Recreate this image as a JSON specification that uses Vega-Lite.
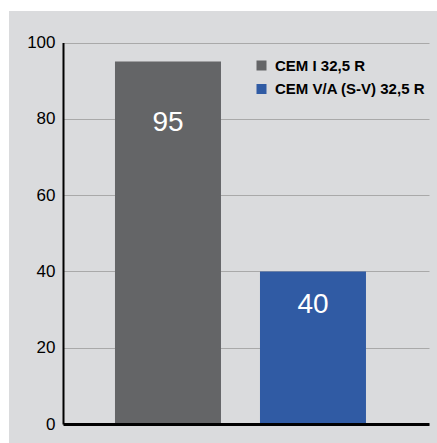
{
  "$schema": "https://vega.github.io/schema/vega-lite/v6.json",
  "width": 428,
  "height": 432,
  "autosize": {"type": "none"},
  "padding": {"left": 9, "top": 11, "right": 0, "bottom": 0},
  "background": "#ffffff",
  "config": {"view": {"fill": "#dadbdd", "stroke": null}, "font": "Liberation Sans"},
  "data": {"values": [
    {"cement": "CEM I 32,5 R", "value": 95},
    {"cement": "CEM V/A (S-V) 32,5 R", "value": 40}
  ]},
  "encoding": {
    "x": {
      "field": "cement", "type": "nominal", "sort": null,
      "scale": {"range": [54, 420], "paddingInner": 0.269, "paddingOuter": 0.3966, "align": 0.452},
      "axis": {"orient": "bottom", "offset": -19, "labels": false, "ticks": false, "title": null, "domainColor": "#000000", "domainWidth": 3, "grid": false, "zindex": 1}
    },
    "y": {
      "field": "value", "type": "quantitative",
      "scale": {"domain": [0, 100], "range": [413, 31.5]},
      "axis": {"orient": "left", "offset": -54, "values": [0, 20, 40, 60, 80, 100], "title": null, "ticks": false, "domainColor": "#000000", "domainWidth": 2, "labelPadding": 8, "labelFontSize": 17, "labelColor": "#000000", "labelFont": "Liberation Sans", "gridColor": "#a9a9a9", "gridWidth": 1}
    }
  },
  "layer": [
    {
      "mark": {"type": "bar"},
      "encoding": {
        "color": {
          "field": "cement", "type": "nominal", "sort": null,
          "scale": {"range": ["#646567", "#305ba4"]},
          "legend": {"orient": "none", "legendX": 245, "legendY": 47, "title": null, "symbolType": "square", "symbolSize": 100, "symbolStrokeWidth": 0, "symbolOpacity": 1, "labelFontSize": 15, "labelFontWeight": "bold", "labelColor": "#000000", "labelOffset": 6, "rowPadding": 7.5, "padding": 0, "labelLimit": 300}
        }
      }
    },
    {
      "transform": [{"filter": "datum.value == 95"}],
      "mark": {"type": "text", "dy": 69, "baseline": "alphabetic", "fontSize": 28, "color": "#ffffff", "font": "Liberation Sans"},
      "encoding": {"text": {"field": "value", "type": "quantitative"}}
    },
    {
      "transform": [{"filter": "datum.value == 40"}],
      "mark": {"type": "text", "dy": 41.5, "baseline": "alphabetic", "fontSize": 28, "color": "#ffffff", "font": "Liberation Sans"},
      "encoding": {"text": {"field": "value", "type": "quantitative"}}
    }
  ]
}
